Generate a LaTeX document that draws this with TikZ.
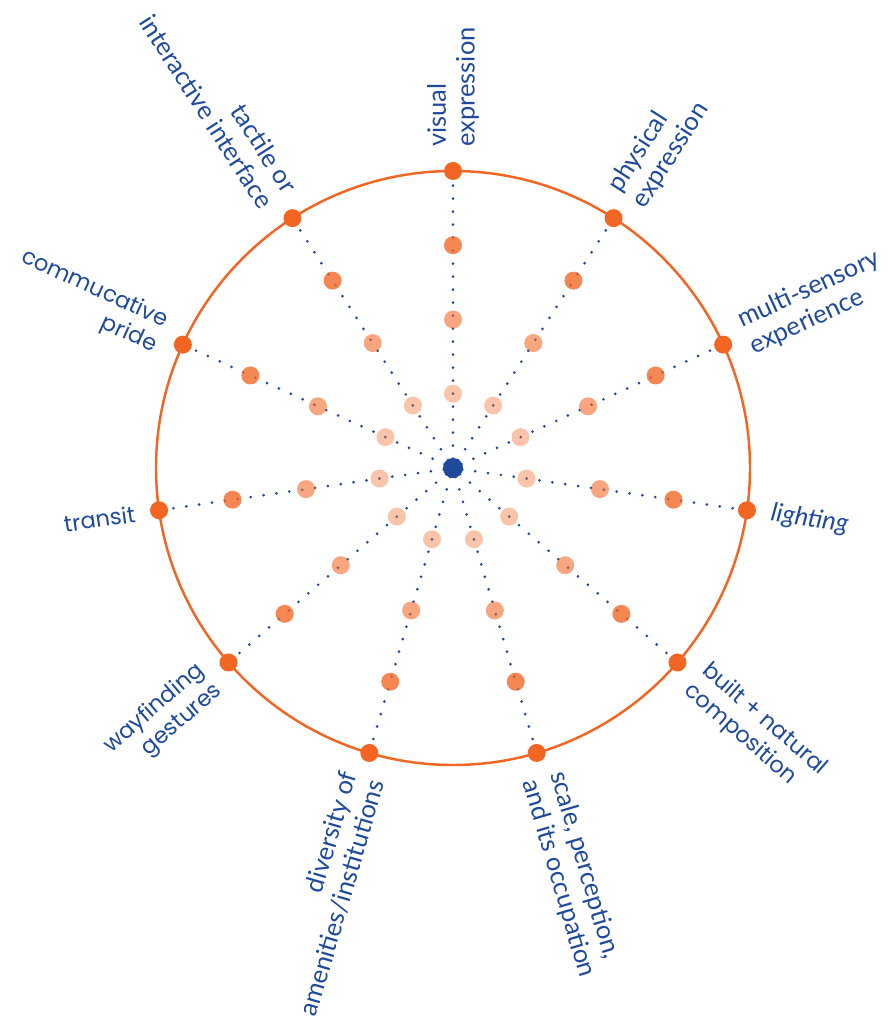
\documentclass[tikz,border=0pt]{standalone}
\usepackage{fontspec}
\setmainfont{Lato}
\newfontfamily\geofont{Poppins}
\usetikzlibrary{positioning}
\definecolor{ringorange}{HTML}{F26522}
\definecolor{inkblue}{HTML}{1F4A9C}
\tikzset{
    spot/.style={circle, inner sep=0pt, minimum size=0.36cm},
    spoke/.style={inkblue, line width=1.7pt, line cap=round, dash pattern=on 0pt off 7.4pt},
    avlbl/.style={inkblue, inner sep=0pt, font=\fontsize{14.5}{16.4}\selectfont},
    avilbl/.style={inkblue, inner sep=0pt, font=\fontsize{14.5}{16.4}\selectfont\itshape},
    geolbl/.style={inkblue, inner sep=0pt, font=\geofont\fontsize{12.8}{15.4}\selectfont},
}
\def\rr{5.94}% radius of the ring

\begin{document}
\begin{tikzpicture}
    \useasboundingbox (-9.06,-11.06) rectangle (8.74,9.36);
    \draw[ringorange, line width=1.4pt] (0,0) circle (\rr);
    \node[spot] (c) at (0,0) {};
    % end points on the ring, 11 of them
    \foreach \k in {0,...,10}{
        \pgfmathsetmacro{\a}{90-\k*360/11}
        \coordinate (p\k) at (\a:\rr);
        \draw[spoke] (c) -- (p\k);
    }
    % three rings of softer dots on each spoke
    \foreach \k in {0,...,10}{
        \pgfmathsetmacro{\a}{90-\k*360/11}
        \node[spot, fill=ringorange, fill opacity=0.38] (d\k-1) at (\a:0.25*\rr) {};
        \node[spot, fill=ringorange, fill opacity=0.58] (d\k-2) at (\a:0.5*\rr) {};
        \node[spot, fill=ringorange, fill opacity=0.78] (d\k-3) at (\a:0.75*\rr) {};
        \node[spot, fill=ringorange] (e\k) at (p\k) {};
    }
    \node[spot, fill=inkblue, minimum size=0.4cm] (hub) at (c) {};
    % labels, right half
    \foreach \k/\txt/\sty in {0/{visual\\expression}/avlbl, 1/{physical\\expression}/avlbl,
        2/{multi-sensory\\experience}/avlbl, 3/{lighting}/avilbl,
        4/{built + natural\\composition}/geolbl, 5/{scale, perception,\\and its occupation}/avlbl}{
        \pgfmathsetmacro{\a}{90-\k*360/11}
        \node[\sty, rotate=\a, anchor=west, align=left] (lab\k) at (\a:6.42) {\txt};
    }
    % labels, left half
    \foreach \k/\txt/\sty in {6/{diversity of\\amenities/institutions}/avlbl, 7/{wayfinding\\gestures}/geolbl,
        8/{transit}/geolbl, 9/{commucative\\pride}/geolbl, 10/{tactile or\\interactive interface}/avlbl}{
        \pgfmathsetmacro{\a}{90-\k*360/11}
        \node[\sty, rotate=\a+180, anchor=east, align=right] (lab\k) at (\a:6.42) {\txt};
    }
\end{tikzpicture}
\end{document}
